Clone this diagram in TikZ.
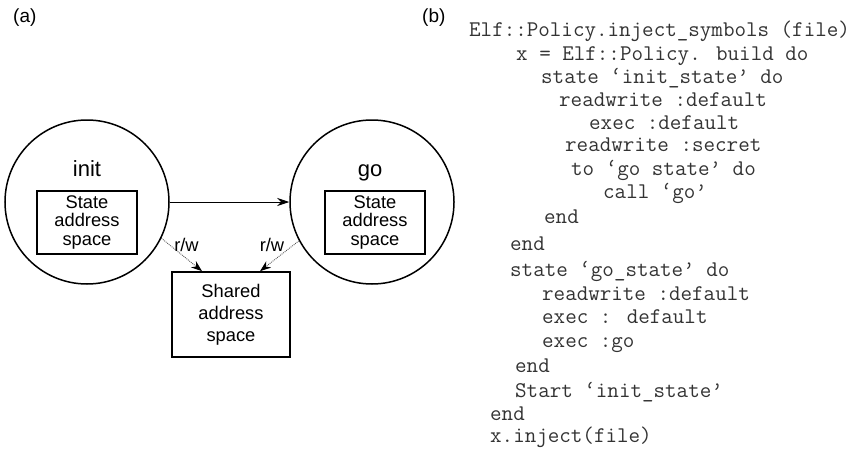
\documentclass[tikz,border=0pt]{standalone}
\usepackage{fontspec}
\setmainfont{Liberation Sans}
\usetikzlibrary{arrows.meta,calc}

\tikzset{
  panel/.style={anchor=base west, inner sep=0pt, font=\fontsize{19}{19}\selectfont},
  statecircle/.style={circle, draw, line width=1.5pt, minimum size=164pt, inner sep=0pt},
  statename/.style={anchor=base, inner sep=0pt, font=\fontsize{22}{22}\selectfont},
  spacebox/.style={draw, line width=1.7pt, inner sep=0pt, align=center,
    font=\fontsize{18.3}{18.5}\selectfont},
  rwlabel/.style={anchor=base, inner sep=0pt, font=\fontsize{18.3}{18.3}\selectfont},
  rwline/.style={densely dotted, line width=0.9pt, black!65,
    -{Stealth[length=11pt,width=8pt,black]}},
  codeline/.style={anchor=base west, inner sep=0pt, text=black!80,
    font=\ttfamily\fontsize{22.4}{23.9}\selectfont},
}

\begin{document}
\begin{tikzpicture}[x=1pt,y=-1pt]
\useasboundingbox (0,0) rectangle (866,452);

% panel captions
\node[panel] (capa) at (13,23) {(a)};
\node[panel] (capb) at (422,23) {(b)};

% (a) the two states and the shared memory
\node[statecircle] (init) at (87,202) {};
\node[statecircle] (go) at (372,202) {};
\node[statename] (initname) at (87,176) {init};
\node[statename] (goname) at (370,176) {go};

\node[spacebox, minimum width=100pt, minimum height=63pt] (initspace) at (87,222.5)
  {State\\address\\space};
\node[spacebox, minimum width=100pt, minimum height=63pt] (gospace) at (375,222.5)
  {State\\address\\space};
\node[spacebox, minimum width=118pt, minimum height=85pt,
      font=\fontsize{18.3}{22}\selectfont] (shared) at (231,314.5)
  {Shared\\address\\space};

\draw[line width=1pt, -{Stealth[length=12pt,width=8pt]}] (init.east) -- (go.west);

\coordinate (sharedl) at ($(shared.north)+(-29,0)$);
\coordinate (sharedr) at ($(shared.north)+(29,0)$);
\draw[rwline] (init.-26.6) -- (sharedl);
\draw[rwline] (go.-152) -- (sharedr);
\node[rwlabel] (rwl) at (186.5,251) {r/w};
\node[rwlabel] (rwr) at (272,251) {r/w};

% (b) the policy source
\node[codeline] (c1)  at (469,37)    {Elf::Policy.inject\_symbols (file)};
\node[codeline] (c2)  at (516,60)    {x = Elf::Policy. build do};
\node[codeline] (c3)  at (541,83.3)  {state ‘init\_state’ do};
\node[codeline] (c4)  at (559,106.3) {readwrite :default};
\node[codeline] (c5)  at (589,129.7) {exec :default};
\node[codeline] (c6)  at (565,151.5) {readwrite :secret};
\node[codeline] (c7)  at (571,175)   {to ‘go state’ do};
\node[codeline] (c8)  at (603,198.3) {call ‘go’};
\node[codeline] (c9)  at (544,223)   {end};
\node[codeline] (c10) at (510,250.5) {end};
\node[codeline] (c11) at (510,276.7) {state ‘go\_state’ do};
\node[codeline] (c12) at (542,300.7) {readwrite :default};
\node[codeline] (c13) at (542,323.5) {exec : default};
\node[codeline] (c14) at (542,347)   {exec :go};
\node[codeline] (c15) at (515,372)   {end};
\node[codeline] (c16) at (515,397.5) {Start ‘init\_state’};
\node[codeline] (c17) at (490,420.5) {end};
\node[codeline] (c18) at (490,442)   {x.inject(file)};
\end{tikzpicture}
\end{document}
